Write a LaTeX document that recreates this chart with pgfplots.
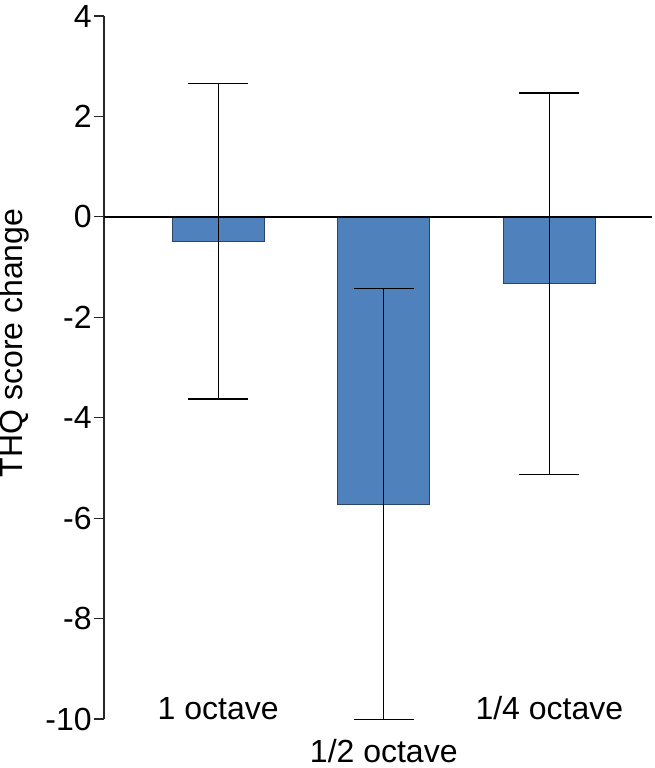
\documentclass[border=0pt]{standalone}
\usepackage{fontspec}
\setmainfont{Liberation Sans}
\usepackage{pgfplots}
\pgfplotsset{compat=1.18}
\definecolor{barblue}{HTML}{4F81BD}
\definecolor{baredge}{HTML}{2B4565}
\begin{document}
\begin{tikzpicture}
\begin{axis}[
  name=ax,
  scale only axis,
  width=274pt, height=351.5pt,
  xmin=-0.69, xmax=2.62,
  ymin=-10, ymax=4,
  clip=false,
  axis y line=left,
  axis x line=bottom,
  axis line style={-, line width=0.6pt, black!85},
  x axis line style={draw=none},
  xtick={0,2},
  xticklabels={1 octave,1/4 octave},
  extra x ticks={1},
  extra x tick labels={1/2 octave},
  extra x tick style={xticklabel style={yshift=-21.5pt}},
  xtick style={draw=none},
  xticklabel style={anchor=base, yshift=5pt},
  ytick={-10,-8,-6,-4,-2,0,2,4},
  yticklabels={-10,-8,-6,-4,-2,0,2,4},
  tick align=outside,
  major tick length=5pt,
  ytick style={line width=0.6pt, black!85},
  yticklabel style={inner sep=1pt},
  tick label style={font=\fontsize{16}{19}\selectfont},
  ylabel={THQ score change},
  ylabel style={font=\fontsize{16}{19}\selectfont, at={(axis description cs:-0.164,0.535)}, anchor=center, rotate=0},
]
\addplot[ybar, bar width=46pt, fill=barblue, draw=baredge, line width=0.5pt,
  error bars/.cd, y dir=both, y explicit,
  error bar style={line width=0.7pt, black},
  error mark options={rotate=90, mark size=15pt, line width=0.7pt, black}]
  coordinates {
    (0,-0.49) +- (0,3.14)
    (1,-5.72) +- (0,4.29)
    (2,-1.33) +- (0,3.80)
  };
\addplot[black, line width=0.7pt, mark=none] coordinates {(-0.69,0) (2.62,0)};
\end{axis}
\pgfresetboundingbox
\path ([shift={(-52pt,-24.5pt)}]ax.south west) rectangle ([shift={(1.5pt,8pt)}]ax.north east);
\end{tikzpicture}
\end{document}
